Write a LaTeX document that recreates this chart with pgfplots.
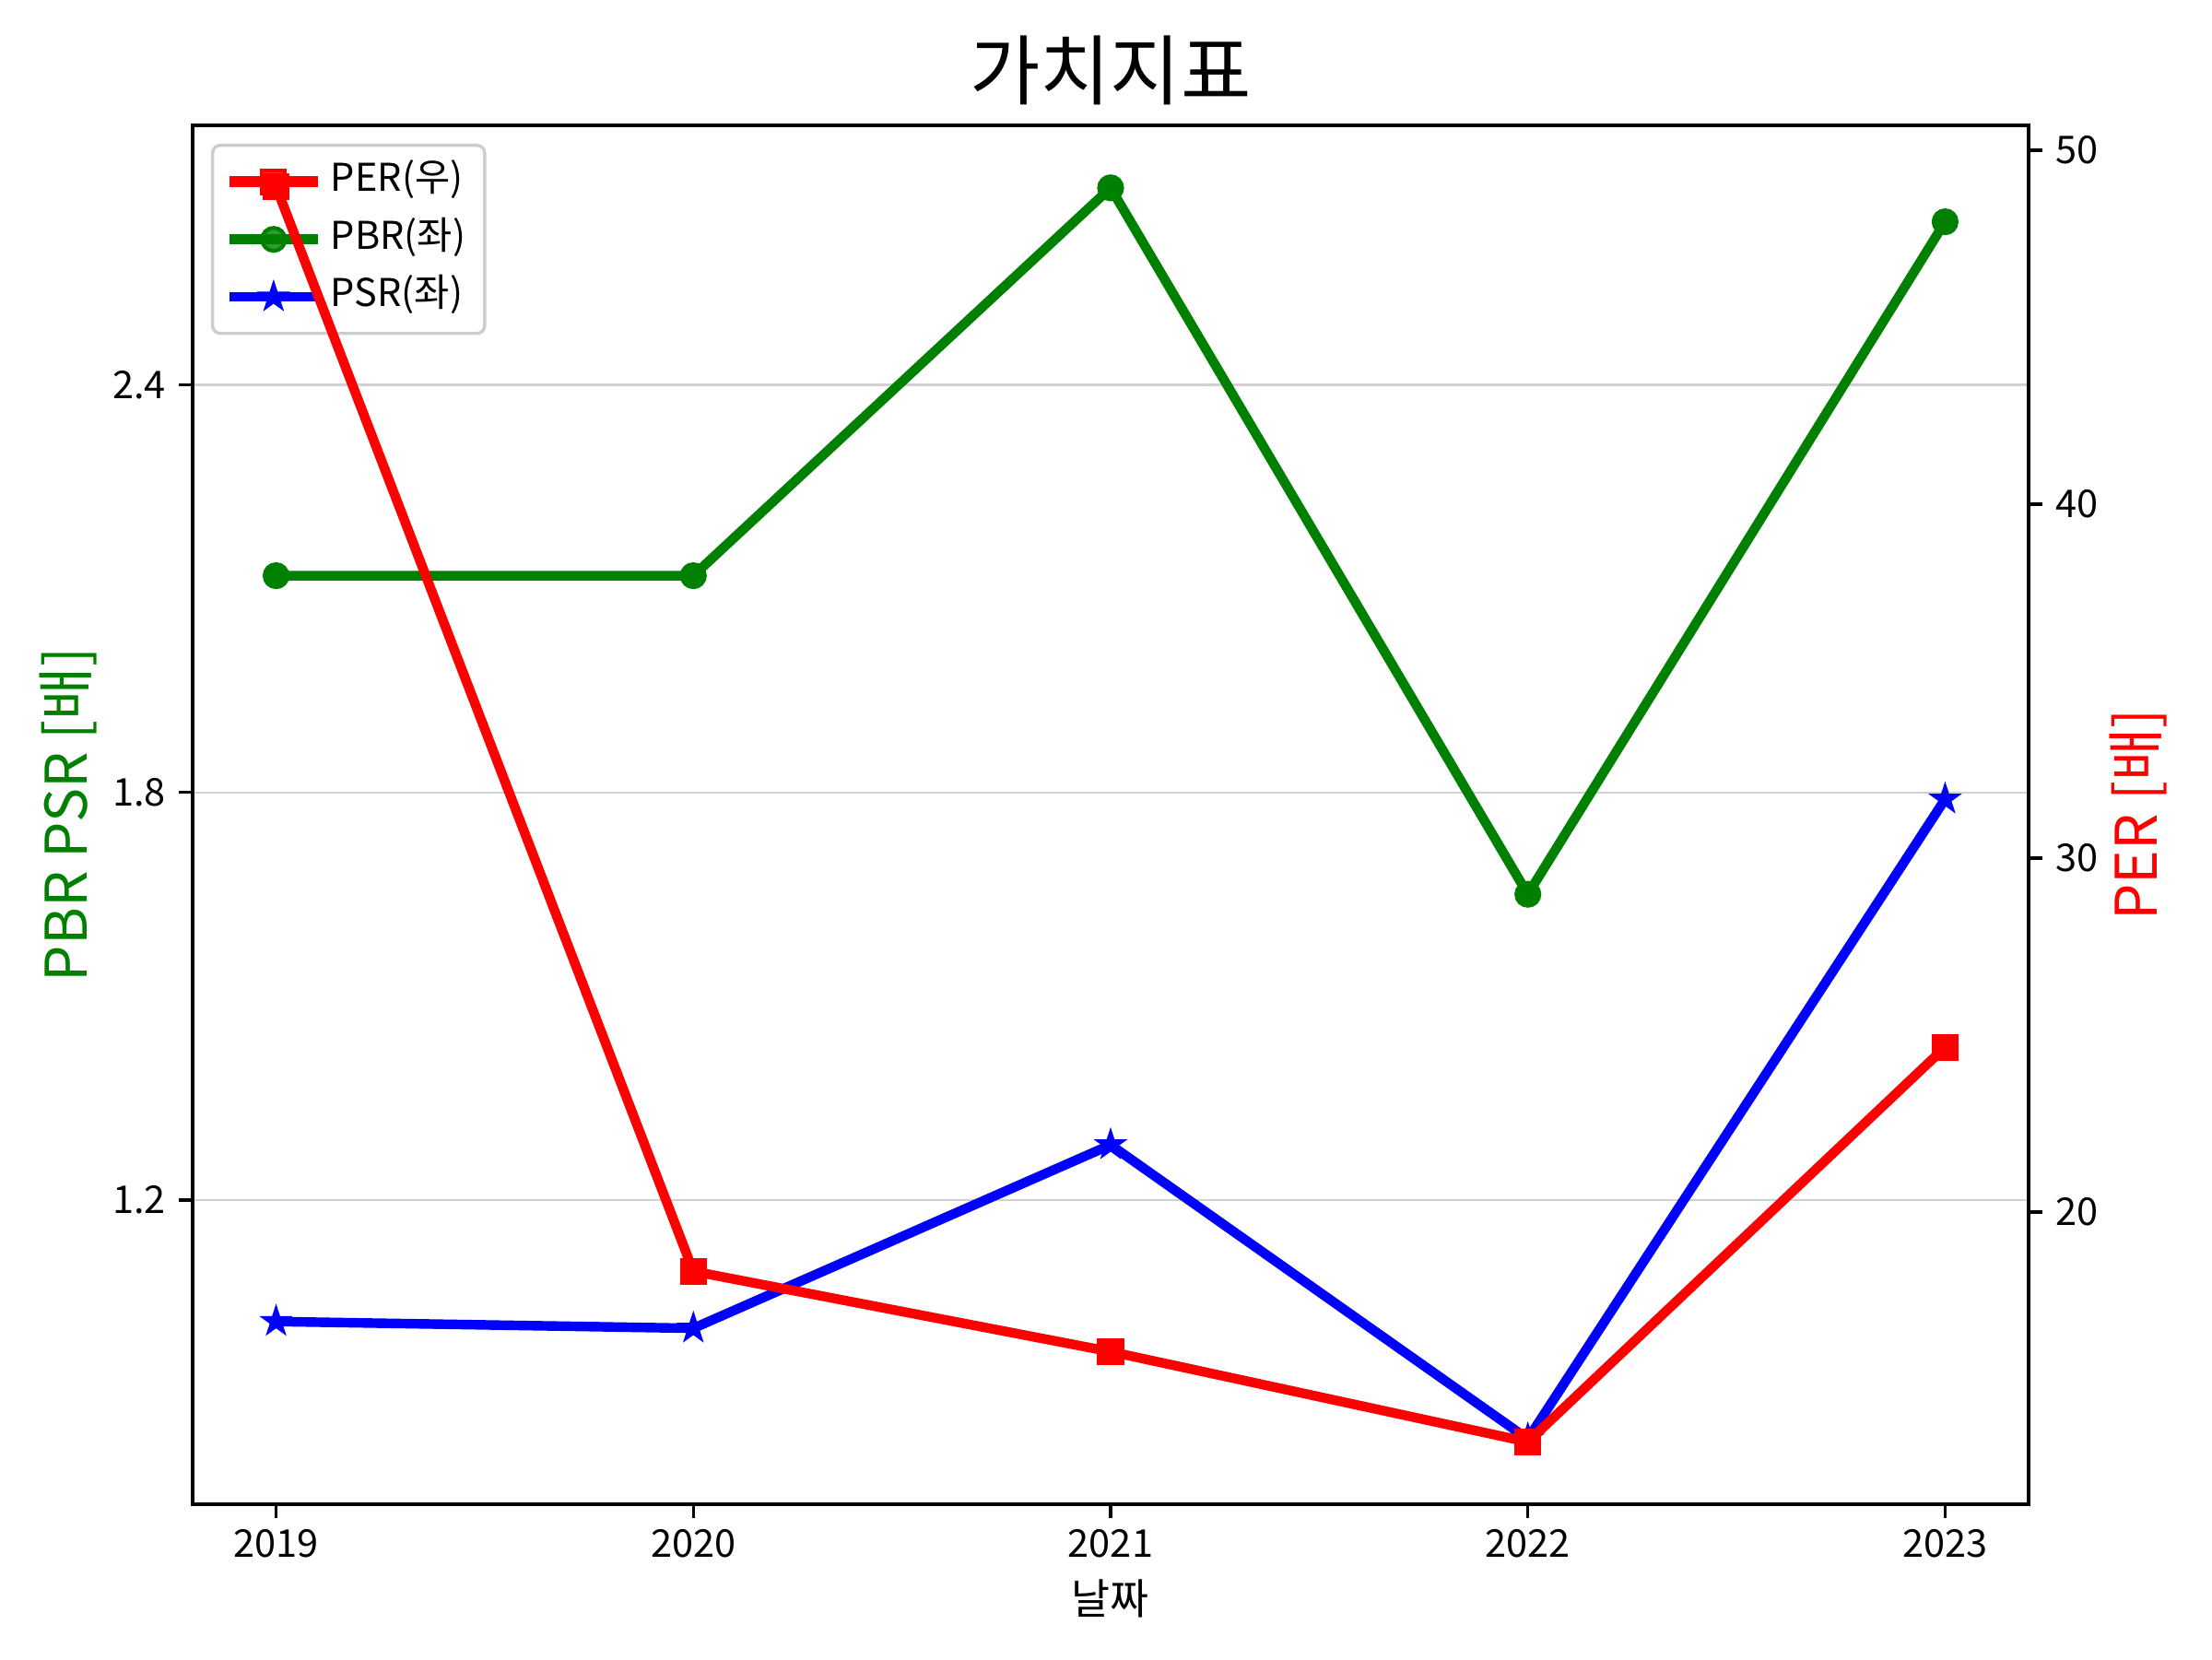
\documentclass[border=0pt]{standalone}
\usepackage{fontspec}
\setmainfont{Noto Sans CJK KR}
\usepackage{pgfplots}
\pgfplotsset{compat=1.18}
\definecolor{mplgreen}{rgb}{0,0.5019,0}
\definecolor{gridgray}{rgb}{0.82,0.82,0.82}
\definecolor{legframe}{rgb}{0.8,0.8,0.8}

\pgfdeclareplotmark{fstar}{%
  \pgfpathmoveto{\pgfpointpolar{90}{\pgfplotmarksize}}%
  \pgfpathlineto{\pgfpointpolar{126}{0.382\pgfplotmarksize}}%
  \pgfpathlineto{\pgfpointpolar{162}{\pgfplotmarksize}}%
  \pgfpathlineto{\pgfpointpolar{198}{0.382\pgfplotmarksize}}%
  \pgfpathlineto{\pgfpointpolar{234}{\pgfplotmarksize}}%
  \pgfpathlineto{\pgfpointpolar{270}{0.382\pgfplotmarksize}}%
  \pgfpathlineto{\pgfpointpolar{306}{\pgfplotmarksize}}%
  \pgfpathlineto{\pgfpointpolar{342}{0.382\pgfplotmarksize}}%
  \pgfpathlineto{\pgfpointpolar{18}{\pgfplotmarksize}}%
  \pgfpathlineto{\pgfpointpolar{54}{0.382\pgfplotmarksize}}%
  \pgfpathclose
  \pgfusepathqfillstroke
}

\pgfplotsset{
  common/.style={
    at={(50.16bp,40.32bp)}, anchor=south west,
    scale only axis, width=478.08bp, height=359.04bp,
    xmin=2018.8, xmax=2023.2,
    tick align=outside,
    major tick length=3.5bp,
    every tick/.style={black, line width=0.8bp},
    axis line style={-, line width=0.8bp},
    tick label style={font=\fontsize{10}{12}\selectfont},
    /pgf/number format/assume math mode=true,
  }
}

\begin{document}
\begin{tikzpicture}
\path[use as bounding box] (0,0) rectangle (576bp,432bp);

\begin{axis}[common,
  ymin=0.752, ymax=2.782,
  ytick={1.2,1.8,2.4},
  yticklabel style={/pgf/number format/.cd,fixed,precision=1,fixed zerofill},
  xtick={2019,2020,2021,2022,2023},
  xticklabels={2019,2020,2021,2022,2023},
  xticklabel style={yshift=0.5bp},
  xtick pos=left, ytick pos=left,
  ymajorgrids, major grid style={gridgray, line width=0.5bp},
  xlabel={날짜},
  xlabel style={font=\fontsize{11}{13}\selectfont, at={(axis description cs:0.5,-0.0802)}, anchor=base},
  ylabel={PBR PSR [배]},
  ylabel style={font=\fontsize{15}{17}\selectfont, text=mplgreen, at={(axis description cs:-0.068,0.5)}, anchor=center},
  title={가치지표},
  every axis title shift=0pt,
  title style={font=\fontsize{20}{24}\selectfont, at={(axis description cs:0.5,1.0187)}, anchor=base},
  legend cell align=left,
  legend image code/.code={\draw[mark repeat=2,mark phase=2,#1] plot coordinates {(0bp,0bp)(11.5bp,0bp)(23bp,0bp)};},
  legend style={at={(axis description cs:0,1)}, anchor=north west, xshift=4.8bp, yshift=-4.8bp,
    draw=legframe, line width=0.8bp, rounded corners=2bp, fill=white, fill opacity=0.8, text opacity=1,
    font=\fontsize{10}{12}\selectfont, row sep=0pt,
    nodes={text height=7.5bp, text depth=2.5bp, inner ysep=2.5bp}},
]
\addlegendimage{red, line width=2.8bp, mark=square*, mark size=3bp, mark options={solid, line width=1bp}}
\addlegendentry{PER(우)}
\addplot[mplgreen, line width=2.5bp, mark=*, mark size=3bp, mark options={solid, line width=1bp}]
  coordinates {(2019,2.119)(2020,2.119)(2021,2.690)(2022,1.650)(2023,2.640)};
\addlegendentry{PBR(좌)}
\addplot[blue, line width=2.5bp, mark=fstar, mark size=3bp, mark options={solid, line width=1bp}]
  coordinates {(2019,1.021)(2020,1.011)(2021,1.281)(2022,0.848)(2023,1.790)};
\addlegendentry{PSR(좌)}
\end{axis}

\begin{axis}[common,
  ymin=11.75, ymax=50.7,
  axis x line=none, axis y line*=right,
  ytick={20,30,40,50},
  ylabel={PER [배]},
  ylabel style={font=\fontsize{15}{17}\selectfont, text=red, at={(axis description cs:1.060,0.5)}, anchor=center},
]
\addplot[red, line width=2.5bp, mark=square*, mark size=3bp, mark options={solid, line width=1bp}]
  coordinates {(2019,48.97)(2020,18.33)(2021,16.06)(2022,13.51)(2023,24.66)};
\end{axis}
\end{tikzpicture}
\end{document}
